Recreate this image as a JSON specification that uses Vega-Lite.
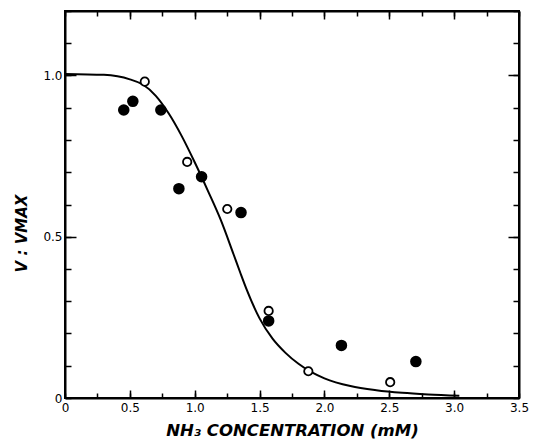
{
  "$schema": "https://vega.github.io/schema/vega-lite/v6.json",
  "width": 454,
  "height": 387,
  "autosize": {"type": "none"},
  "padding": {"left": 65, "top": 11, "right": 18, "bottom": 44},
  "background": "white",
  "config": {
    "view": {"stroke": "black", "strokeWidth": 2},
    "axis": {
      "domainColor": "black",
      "domainWidth": 2,
      "tickColor": "black",
      "tickWidth": 1.5,
      "grid": false,
      "labelColor": "black",
      "labelFont": "DejaVu Sans",
      "labelFontSize": 12,
      "titleColor": "black",
      "titleFont": "DejaVu Sans",
      "titleFontSize": 15,
      "titleFontStyle": "italic",
      "titleFontWeight": "bold"
    }
  },
  "datasets": {
    "curve": [
      {"conc": 0.0, "v": 1.005},
      {"conc": 0.3, "v": 1.002},
      {"conc": 0.5, "v": 0.988},
      {"conc": 0.6, "v": 0.972},
      {"conc": 0.7, "v": 0.937},
      {"conc": 0.8, "v": 0.882},
      {"conc": 0.9, "v": 0.812},
      {"conc": 1.0, "v": 0.731},
      {"conc": 1.1, "v": 0.644},
      {"conc": 1.2, "v": 0.553},
      {"conc": 1.3, "v": 0.445},
      {"conc": 1.35, "v": 0.39},
      {"conc": 1.4, "v": 0.337},
      {"conc": 1.5, "v": 0.247},
      {"conc": 1.6, "v": 0.184},
      {"conc": 1.7, "v": 0.14},
      {"conc": 1.8, "v": 0.106},
      {"conc": 1.9, "v": 0.08},
      {"conc": 2.0, "v": 0.061},
      {"conc": 2.2, "v": 0.037},
      {"conc": 2.4, "v": 0.024},
      {"conc": 2.6, "v": 0.016},
      {"conc": 2.8, "v": 0.011},
      {"conc": 3.04, "v": 0.007}
    ],
    "points": [
      {"conc": 0.453, "v": 0.893, "type": "filled"},
      {"conc": 0.523, "v": 0.92, "type": "filled"},
      {"conc": 0.739, "v": 0.893, "type": "filled"},
      {"conc": 0.878, "v": 0.649, "type": "filled"},
      {"conc": 1.053, "v": 0.686, "type": "filled"},
      {"conc": 1.357, "v": 0.575, "type": "filled"},
      {"conc": 1.57, "v": 0.239, "type": "filled"},
      {"conc": 2.131, "v": 0.163, "type": "filled"},
      {"conc": 2.705, "v": 0.113, "type": "filled"},
      {"conc": 0.615, "v": 0.981, "type": "open"},
      {"conc": 0.942, "v": 0.732, "type": "open"},
      {"conc": 1.251, "v": 0.586, "type": "open"},
      {"conc": 1.57, "v": 0.27, "type": "open"},
      {"conc": 1.876, "v": 0.083, "type": "open"},
      {"conc": 2.507, "v": 0.049, "type": "open"}
    ]
  },
  "layer": [
    {
      "data": {"name": "curve"},
      "mark": {"type": "line", "color": "black", "strokeWidth": 2, "interpolate": "monotone"},
      "encoding": {
        "x": {
          "field": "conc",
          "type": "quantitative",
          "scale": {"domain": [0, 3.5], "nice": false, "zero": false},
          "axis": {
            "orient": "bottom",
            "title": "NH₃   CONCENTRATION (mM)",
            "titleFontSize": 16.5,
            "values": [0, 0.25, 0.5, 0.75, 1, 1.25, 1.5, 1.75, 2, 2.25, 2.5, 2.75, 3, 3.25, 3.5],
            "labelExpr": "(datum.value*2)%1==0 ? (datum.value==0 ? '0' : format(datum.value, '.1f')) : ''",
            "tickSize": -5,
            "labelPadding": 9,
            "labelFlush": false,
            "labelOverlap": false,
            "titlePadding": 9
          }
        },
        "y": {
          "field": "v",
          "type": "quantitative",
          "scale": {"domain": [0, 1.2], "nice": false, "zero": false},
          "axis": {
            "orient": "left",
            "title": "V : VMAX",
            "values": [0, 0.1, 0.2, 0.3, 0.4, 0.5, 0.6, 0.7, 0.8, 0.9, 1.0, 1.1, 1.2],
            "labelExpr": "datum.value==0 ? '0' : ((datum.value==0.5 || datum.value==1) ? format(datum.value, '.1f') : '')",
            "tickSize": -6,
            "labelPadding": 9,
            "labelFlush": false,
            "labelOverlap": false,
            "titleX": -36,
            "titleY": 222
          }
        }
      }
    },
    {
      "data": {"name": "points"},
      "mark": {"type": "point", "opacity": 0},
      "encoding": {
        "x": {
          "field": "conc",
          "type": "quantitative",
          "axis": {
            "orient": "bottom",
            "title": null,
            "labels": false,
            "domain": false,
            "values": [0.5, 1, 1.5, 2, 2.5, 3],
            "tickSize": -8
          }
        },
        "y": {
          "field": "v",
          "type": "quantitative",
          "axis": {
            "orient": "left",
            "title": null,
            "labels": false,
            "domain": false,
            "values": [0.5, 1],
            "tickSize": -11
          }
        }
      }
    },
    {
      "data": {"name": "points"},
      "mark": {"type": "point", "opacity": 0},
      "encoding": {
        "x": {
          "field": "conc",
          "type": "quantitative",
          "axis": {
            "orient": "top",
            "title": null,
            "labels": false,
            "domain": false,
            "values": [0.5, 1, 1.5, 2, 2.5, 3],
            "tickSize": -8
          }
        },
        "y": {
          "field": "v",
          "type": "quantitative",
          "axis": {
            "orient": "right",
            "title": null,
            "labels": false,
            "domain": false,
            "values": [0.5, 1],
            "tickSize": -11
          }
        }
      }
    },
    {
      "data": {"name": "points"},
      "mark": {"type": "point", "stroke": "black", "strokeWidth": 1.8, "opacity": 1},
      "encoding": {
        "x": {
          "field": "conc",
          "type": "quantitative",
          "axis": {
            "orient": "top",
            "title": null,
            "labels": false,
            "values": [0, 0.25, 0.5, 0.75, 1, 1.25, 1.5, 1.75, 2, 2.25, 2.5, 2.75, 3, 3.25, 3.5],
            "tickSize": -5
          }
        },
        "y": {
          "field": "v",
          "type": "quantitative",
          "axis": {
            "orient": "right",
            "title": null,
            "labels": false,
            "values": [0, 0.1, 0.2, 0.3, 0.4, 0.5, 0.6, 0.7, 0.8, 0.9, 1.0, 1.1, 1.2],
            "tickSize": -6
          }
        },
        "fill": {
          "field": "type",
          "type": "nominal",
          "scale": {"domain": ["filled", "open"], "range": ["black", "white"]},
          "legend": null
        },
        "size": {
          "field": "type",
          "type": "nominal",
          "scale": {"domain": ["filled", "open"], "range": [95, 70]},
          "legend": null
        }
      }
    }
  ],
  "resolve": {"axis": {"x": "independent", "y": "independent"}}
}
